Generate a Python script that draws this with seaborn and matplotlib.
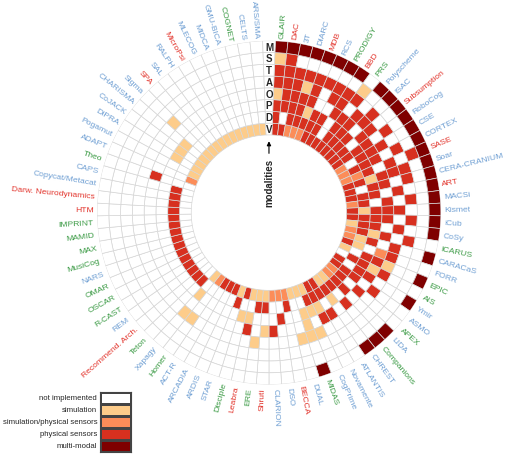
import numpy as np
import pandas as pd
import seaborn as sns
import matplotlib.pyplot as plt
from matplotlib.colors import ListedColormap

# architectures clockwise from the top
architectures = [
    "GLAIR", "DAC", "3T", "DIARC", "MDB", "RCS", "PRODIGY", "BBD", "PRS", "Polyscheme",
    "ISAC", "Subsumption", "RoboCog", "CSE", "CORTEX", "SASE", "Soar", "CERA-CRANIUM", "ART", "MACSi",
    "Kismet", "iCub", "CoSy", "ICARUS", "CARACaS", "FORR", "EPIC", "AIS", "Ymir", "ASMO",
    "APEX", "LIDA", "Companions", "CHREST", "ATLANTIS", "Novamente", "CogPrime", "MIDAS", "DUAL", "BECCA",
    "DSO", "CLARION", "Shruti", "ERE", "Leabra", "Disciple", "STAR", "ARDIS", "ARCADIA", "ACT-R",
    "Homer", "Xapagy", "Teton", "Recommend. Arch.", "REM", "R-CAST", "OSCAR", "OMAR", "NARS", "MusiCog",
    "MAX", "MAMID", "IMPRINT", "HTM", "Darw. Neurodynamics", "Copycat/Metacat", "CAPS", "Theo", "ADAPT", "Pogamut",
    "DiPRA", "CoJACK", "CHARISMA", "Sigma", "SPA", "SAL", "RALPH", "MicroPsi", "MLECOG", "MIDCA",
    "GMU-BICA", "COGNET", "CELTS", "ARS/SMA",
]
# g = symbolic, r = emergent, b = hybrid
arch_type = list(
    "grbbrbgrgb" "brbbbrbbrb" "bbbgbbggbb" "gbgbbbbgbr"
    "bbrgrgbbbb" "gbgrbgggbg" "gggrrbbgbb" "bbbbrbbrbb" "bgbb"
)

# 0 not implemented, 1 simulation, 2 simulation/physical, 3 physical, 4 multi-modal
multi   = [4]*8 + [0] + [4]*14 + [0, 4, 0, 4, 0, 4, 0, 0, 4, 4, 4, 0, 0, 0, 4] + [0]*46
smell   = [1, 3] + [0]*6 + [1] + [0]*6 + [3] + [0]*68
touch   = [3]*9 + [0, 3, 0, 3, 0, 3, 0, 3, 3, 0, 3, 0, 3, 0, 3] + [0]*60
audio   = [3, 3, 3, 1, 3, 0, 3, 3, 0, 3, 3, 3, 0, 3, 0, 3, 3, 0, 3, 0,
           3, 0, 3, 0, 3, 3, 1, 3, 0, 3, 0, 0, 0, 0, 0, 0, 1, 1, 1, 0,
           0, 0, 0, 1, 0, 0, 0, 0, 0, 0, 1, 1] + [0]*21 + [1] + [0]*10
other   = [1, 3, 3, 3, 3, 0, 0, 3, 3, 3, 0, 3, 3, 3, 3, 0, 3, 3, 0, 3,
           3, 3, 0, 3, 0, 2, 3, 1, 3, 0, 3, 0, 3, 0, 3, 3, 0, 1, 0, 0,
           0, 3, 1, 0, 3] + [0]*22 + [3] + [0]*16
proprio = [3, 3, 3, 3, 1, 3, 3, 0, 3, 3, 3, 0, 3, 3, 3, 3, 1, 3, 3, 0,
           3, 3, 3, 1, 3, 0, 3, 3, 3, 3, 0, 3, 0, 1, 0, 1, 1, 1, 0, 0,
           3, 0, 0, 0, 1, 1, 0, 0, 0, 0, 0, 1] + [0]*18 + [1, 1, 1] + [0]*11
data    = [3, 0, 3, 3, 3, 3, 3, 0, 3, 3, 3, 3, 3, 0, 3, 2, 3, 0, 3, 3,
           1, 3, 3, 3, 1, 1, 0, 3, 0, 3, 3, 3, 3, 3, 3, 3, 3, 0, 0, 3,
           0, 0, 3, 3, 0, 0, 3, 0, 0, 0, 0, 0] + [3]*15 + [0]*17
vision  = [3, 3, 2, 2, 2, 3, 3, 3, 3, 3, 3, 3, 3, 2, 2, 2, 3, 3, 3, 2,
           3, 3, 1, 2, 2, 3, 1, 0, 3, 3, 2, 2, 1, 1, 3, 3, 1, 1, 1, 2,
           2, 2, 1, 1, 1, 3, 1, 3, 3, 3, 2, 1] + [0]*16 + [2] + [1]*15

modalities = ["V", "D", "P", "O", "A", "T", "S", "M"]  # inner -> outer
rings = [vision, data, proprio, other, audio, touch, smell, multi]
for r in rings:
    assert len(r) == len(architectures)

level_names = ["not implemented", "simulation", "simulation/physical sensors",
               "physical sensors", "multi-modal"]
palette = sns.color_palette(["#ffffff", "#fdcc8a", "#fc8d59", "#d7301f", "#7f0000"])
type_colors = {"g": "#3a9a44", "r": "#e2332b", "b": "#6f9fd3"}

# long table: one row per cell
n_cols = len(architectures) + 1  # one empty column for the ring letters
rows = []
for j, (mod, vals) in enumerate(zip(modalities, rings)):
    for i, v in enumerate(vals):
        rows.append({"arch": architectures[i], "col": i + 1, "ring": j, "modality": mod, "level": v})
df = pd.DataFrame(rows)

sns.set_theme(style="white")
plt.rcParams["font.family"] = ["Liberation Sans", "DejaVu Sans"]

fig = plt.figure(figsize=(5.2, 4.56), dpi=100)
ax = fig.add_axes([0.1865, 0.1545, 0.6615, 0.754], projection="polar")
ax.set_theta_zero_location("N")
ax.set_theta_direction(-1)

base = 6.6
step = 2 * np.pi / n_cols
theta = df["col"].to_numpy() * step
ax.bar(theta, 1.0, width=step, bottom=base + df["ring"].to_numpy(),
       color=[palette[v] for v in df["level"]], edgecolor="#d6d6d6", linewidth=0.5,
       align="center")
# letter column
ax.bar(np.zeros(8), 1.0, width=step, bottom=base + np.arange(8),
       color="white", edgecolor="#d6d6d6", linewidth=0.5)
for j, mod in enumerate(modalities):
    ax.text(0, base + j + 0.5, mod, ha="center", va="center", fontsize=7, fontweight="bold")

ax.set_ylim(0, base + 8)
ax.set_axis_off()

# architecture labels
r_lab = base + 8 + 0.3
for i, name in enumerate(architectures):
    ang = np.degrees((i + 1) * step)
    if ang < 180:
        rot, ha = 90 - ang, "left"
    else:
        rot, ha = 270 - ang, "right"
    ax.text((i + 1) * step, r_lab, name, rotation=rot, rotation_mode="anchor",
            ha=ha, va="center", fontsize=6.1, color=type_colors[arch_type[i]])

# modalities arrow
ax.annotate("", xy=(0, base - 0.3), xytext=(0, base - 1.8),
            arrowprops=dict(arrowstyle="-|>", color="black", lw=0.8, mutation_scale=6))
ax.text(0, 2.6, "modalities", rotation=90, ha="center", va="center",
        fontsize=7, fontweight="bold")

# legend as a small heatmap
lax = fig.add_axes([100 / 520, 3 / 456, 31 / 520, 60 / 456])
sns.heatmap(np.arange(len(level_names)).reshape(-1, 1), cmap=ListedColormap(palette),
            cbar=False, linewidths=0.8, linecolor="#444444", ax=lax,
            xticklabels=False, yticklabels=level_names)
for s in lax.spines.values():
    s.set_visible(True)
    s.set_color("#444444")
    s.set_linewidth(0.8)
lax.tick_params(axis="y", length=0, pad=2, labelsize=5.6, labelrotation=0)

fig.savefig("out.png", dpi=100, facecolor="white")
